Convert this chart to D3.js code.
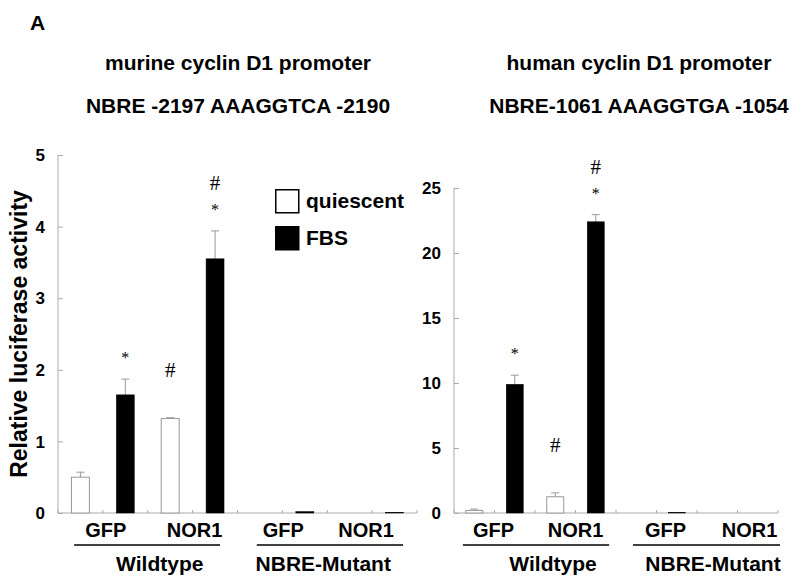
<!DOCTYPE html>
<meta charset="utf-8">
<body style="margin:0;background:#fff">
<style>
svg { display:block; }
text { font-family: "Liberation Sans", Arial, Helvetica, sans-serif; font-weight: bold; fill: #000; }
.sig { font-family: "Liberation Serif", "Times New Roman", serif; font-weight: normal; }
.axis line, .axis path { stroke: #aaa; }
</style>
<script src="https://d3js.org/d3.v7.min.js"></script>
<script>

// ---- data ----
var constructs = ["Wildtype", "NBRE-Mutant"];
var vectors = ["GFP", "NOR1"];
var series = ["quiescent", "FBS"];

// murine promoter (order: WT GFP, WT NOR1, Mut GFP, Mut NOR1)
var murineQuiescent    = [0.50, 1.32, 0.00, 0.00];
var murineQuiescentErr = [0.07, 0.01, 0.00, 0.00];
var murineFBS          = [1.65, 3.55, 0.02, 0.01];
var murineFBSErr       = [0.22, 0.39, 0.00, 0.00];
var murineTicks = [0, 1, 2, 3, 4, 5];

// human promoter
var humanQuiescent    = [0.20, 1.25, 0.00, 0.00];
var humanQuiescentErr = [0.10, 0.30, 0.00, 0.00];
var humanFBS          = [9.90, 22.40, 0.05, 0.00];
var humanFBSErr       = [0.70, 0.55, 0.00, 0.00];
var humanTicks = [0, 5, 10, 15, 20, 25];

// significance marks: [condition index, series index, text]
var murineMarks = [[0, 1, "*"], [1, 0, "#"], [1, 1, "*"], [1, 1, "#"]];
var humanMarks  = [[0, 1, "*"], [1, 0, "#"], [1, 1, "*"], [1, 1, "#"]];

var width = 800, height = 585;
var svg = d3.select("body").append("svg").attr("width", width).attr("height", height);

svg.append("text").attr("x", 30).attr("y", 30).style("font-size", "21px").text("A");

function panel(p) {
  var g = svg.append("g");
  var keys = [];
  p.q.forEach(function(v, i) { series.forEach(function(s, j) { keys.push(i + "-" + j); }); });

  var x = d3.scaleBand().domain(keys).range(p.xr).padding(0);
  var y = d3.scaleLinear().domain([0, p.ymax]).range([513, p.ytop]);
  var bw = x.bandwidth(), barW = bw * p.barFrac;

  // titles
  var cx = p.titleX;
  g.append("text").attr("x", cx).attr("y", 70).attr("text-anchor", "middle").style("font-size", "21px").text(p.title1);
  g.append("text").attr("x", cx).attr("y", 113).attr("text-anchor", "middle").style("font-size", "21px").text(p.title2);

  // y axis
  var ya = g.append("g").attr("class", "axis").attr("transform", "translate(" + p.xr[0] + ",0)")
    .call(d3.axisRight(y).tickValues(p.ticks).tickSize(5).tickFormat(""));
  ya.select(".domain").attr("d", "M0," + y(p.ymax) + "V" + y(0));
  g.selectAll(".ylab").data(p.ticks).enter().append("text")
    .attr("x", p.xr[0] - 13).attr("y", function(d) { return y(d); }).attr("dy", "0.36em")
    .attr("text-anchor", "end").style("font-size", "17px").text(function(d) { return d; });

  // x axis with ticks at band boundaries
  g.append("line").attr("x1", p.xr[0]).attr("x2", p.xr[1]).attr("y1", y(0)).attr("y2", y(0)).attr("stroke", "#aaa");
  var bounds = keys.map(function(k) { return x(k); }).concat([p.xr[1]]);
  g.selectAll(".xt").data(bounds).enter().append("line")
    .attr("x1", function(d) { return d; }).attr("x2", function(d) { return d; })
    .attr("y1", y(0)).attr("y2", y(0) - 3).attr("stroke", "#aaa");

  // bars
  var rows = [];
  p.q.forEach(function(v, i) {
    rows.push({ k: i + "-0", v: v, e: p.qe[i], s: 0 });
    rows.push({ k: i + "-1", v: p.f[i], e: p.fe[i], s: 1 });
  });
  var cxOf = function(d) { return x(d.k) + bw / 2; };
  g.selectAll(".err").data(rows.filter(function(d) { return d.e > 0; })).enter().append("path")
    .attr("d", function(d) {
      var c = cxOf(d), t = y(d.v + d.e);
      return "M" + c + "," + y(d.v) + "V" + t + "M" + (c - 4) + "," + t + "H" + (c + 4);
    })
    .attr("stroke", "#999").attr("fill", "none");
  g.selectAll(".bar").data(rows).enter().append("rect")
    .attr("x", function(d) { return cxOf(d) - barW / 2; })
    .attr("y", function(d) { return y(d.v); })
    .attr("width", barW)
    .attr("height", function(d) { return y(0) - y(d.v); })
    .attr("fill", function(d) { return d.s ? "#000" : "#fff"; })
    .attr("stroke", function(d) { return d.s ? "#000" : "#999"; })
    .attr("stroke-width", function(d) { return d.s ? 0.5 : 1; });

  // significance marks
  p.marks.forEach(function(m) {
    var r = rows[m[0] * 2 + m[1]];
    var top = y(r.v + r.e);
    var yc = m[2] === "*" ? top - 25 : top - 48;
    g.append("text").attr("class", "sig").attr("x", cxOf(r)).attr("text-anchor", "middle")
      .attr("y", m[2] === "*" ? yc + 9 : yc + 7)
      .style("font-size", m[2] === "*" ? "16px" : "21px").text(m[2]);
  });

  // vector labels
  p.q.forEach(function(v, i) {
    var c = x(i + "-1") + p.vecShift[i];
    g.append("text").attr("x", c).attr("y", 537).attr("text-anchor", "middle").style("font-size", "20px")
      .text(vectors[i % 2]);
  });
  // construct underline + label
  constructs.forEach(function(c, j) {
    var x0 = x((j * 2) + "-0"), x1 = x((j * 2 + 1) + "-1") + bw;
    g.append("line").attr("x1", x0 + p.line[j][0] * bw).attr("x2", x1 - p.line[j][1] * bw)
      .attr("y1", 545).attr("y2", 545).attr("stroke", "#000").attr("stroke-width", 1.5);
    g.append("text").attr("x", (x0 + x1) / 2 + p.grpShift[j]).attr("y", 571)
      .attr("text-anchor", "middle").style("font-size", "21px").text(c);
  });
  return { g: g, x: x, y: y };
}

var left = panel({
  q: murineQuiescent, qe: murineQuiescentErr, f: murineFBS, fe: murineFBSErr,
  ticks: murineTicks, ymax: 5, ytop: 155, xr: [58, 417], barFrac: 0.4,
  title1: "murine cyclin D1 promoter", title2: "NBRE -2197 AAAGGTCA -2190", titleX: 238,
  marks: murineMarks, vecShift: [3, 2, 1, -6], grpShift: [12, -4], line: [[0.36, 0.39], [0.43, 0.31]]
});
var right = panel({
  q: humanQuiescent, qe: humanQuiescentErr, f: humanFBS, fe: humanFBSErr,
  ticks: humanTicks, ymax: 25, ytop: 188, xr: [454, 778], barFrac: 0.42,
  title1: "human cyclin D1 promoter", title2: "NBRE-1061 AAAGGTGA -1054", titleX: 639,
  marks: humanMarks, vecShift: [-1, 0, 9, 12], grpShift: [18, 16], line: [[0.22, 0.17], [0.42, -0.05]]
});

// y axis title
svg.append("text").attr("transform", "translate(27,334) rotate(-90)").attr("text-anchor", "middle")
  .style("font-size", "23px").text("Relative luciferase activity");

// legend
var legend = svg.append("g").attr("transform", "translate(275,189)");
series.forEach(function(s, i) {
  legend.append("rect").attr("x", 0.75).attr("y", i * 37 + 0.75).attr("width", 23).attr("height", 23)
    .attr("fill", i ? "#000" : "#fff").attr("stroke", "#000").attr("stroke-width", 1.5);
  legend.append("text").attr("x", 31).attr("y", i * 37 + 19).style("font-size", "21px").text(s);
});

</script>
</body>
